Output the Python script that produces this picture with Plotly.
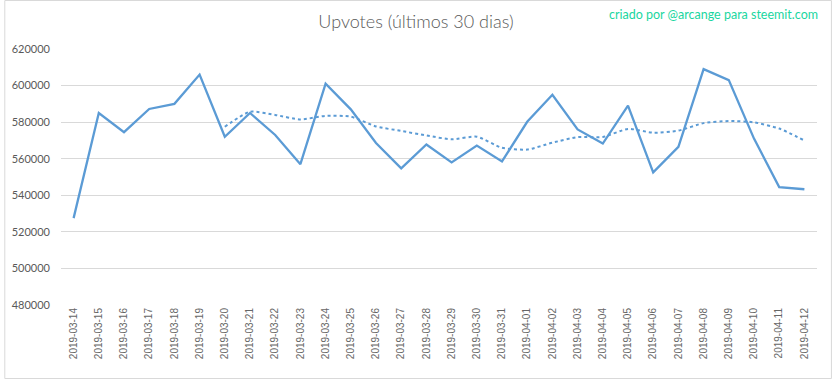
import plotly.graph_objects as go
import pandas as pd

dates = ["2019-03-14", "2019-03-15", "2019-03-16", "2019-03-17", "2019-03-18", "2019-03-19",
         "2019-03-20", "2019-03-21", "2019-03-22", "2019-03-23", "2019-03-24", "2019-03-25",
         "2019-03-26", "2019-03-27", "2019-03-28", "2019-03-29", "2019-03-30", "2019-03-31",
         "2019-04-01", "2019-04-02", "2019-04-03", "2019-04-04", "2019-04-05", "2019-04-06",
         "2019-04-07", "2019-04-08", "2019-04-09", "2019-04-10", "2019-04-11", "2019-04-12"]
upvotes = [527500, 585000, 574500, 587200, 590000, 606000,
           572000, 585000, 573000, 557000, 601000, 587000,
           568600, 554700, 567800, 558000, 567200, 558500,
           580200, 595000, 576000, 568300, 589000, 552500,
           566500, 609000, 603000, 571000, 544500, 543300]
y_ticks = [480000, 500000, 520000, 540000, 560000, 580000, 600000, 620000]

# 7-day moving average trendline (as in the source spreadsheet chart)
mov_avg = pd.Series(upvotes).rolling(7).mean().tolist()

BLUE = "#5B9BD5"
GRAY = "#595959"

fig = go.Figure()
fig.add_trace(go.Scatter(x=dates, y=upvotes, mode="lines",
                         line=dict(color=BLUE, width=2.3), hoverinfo="x+y", showlegend=False))
fig.add_trace(go.Scatter(x=dates, y=mov_avg, mode="lines",
                         line=dict(color=BLUE, width=2, dash="dot", shape="spline", smoothing=0.6),
                         hoverinfo="x+y", showlegend=False, connectgaps=False))

L, R, T, B = 57, 15, 49, 74
W, H = 832, 379
pw, ph = W - L - R, H - T - B

fig.update_layout(
    width=W, height=H,
    margin=dict(l=L, r=R, t=T, b=B),
    paper_bgcolor="white", plot_bgcolor="white",
    font=dict(family="Lato, Open Sans, sans-serif", color=GRAY),
    title=dict(text="Upvotes (últimos 30 dias)", x=0.5, xref="container", xanchor="center",
               y=1 - 22 / H, yanchor="middle",
               font=dict(size=18, color=GRAY, weight=300, family="Lato, Open Sans, sans-serif")),
    xaxis=dict(type="category", categoryorder="array", categoryarray=dates,
               range=[-0.5, len(dates) - 0.5], showgrid=False, zeroline=False,
               showline=False, ticks="", tickangle=-90,
               tickfont=dict(size=10, color="#666666", family="Liberation Sans, sans-serif")),
    yaxis=dict(range=[480000, 620000], tickvals=y_ticks, ticktext=[str(v) for v in y_ticks],
               showgrid=True, gridcolor="#D9D9D9", gridwidth=1, zeroline=False,
               showline=False, ticks="", ticklabelstandoff=10,
               tickfont=dict(size=11, color=GRAY, family="Lato, Open Sans, sans-serif")),
    annotations=[dict(text="criado por @arcange para steemit.com", xref="paper", yref="paper",
                      x=(820 - L) / pw, y=(H - B - 14) / ph, xanchor="right", yanchor="middle",
                      showarrow=False,
                      font=dict(size=12.5, color="#1ad6a0", family="Lato, Open Sans, sans-serif"))],
    shapes=[dict(type="rect", xref="paper", yref="paper",
                 x0=(0.5 - L) / pw, x1=(W - 0.5 - L) / pw,
                 y0=(H - B - (H - 0.5)) / ph, y1=(H - B - 0.5) / ph,
                 line=dict(color="#D9D9D9", width=1), fillcolor="rgba(0,0,0,0)", layer="below")],
)

fig.write_html("out.html")
